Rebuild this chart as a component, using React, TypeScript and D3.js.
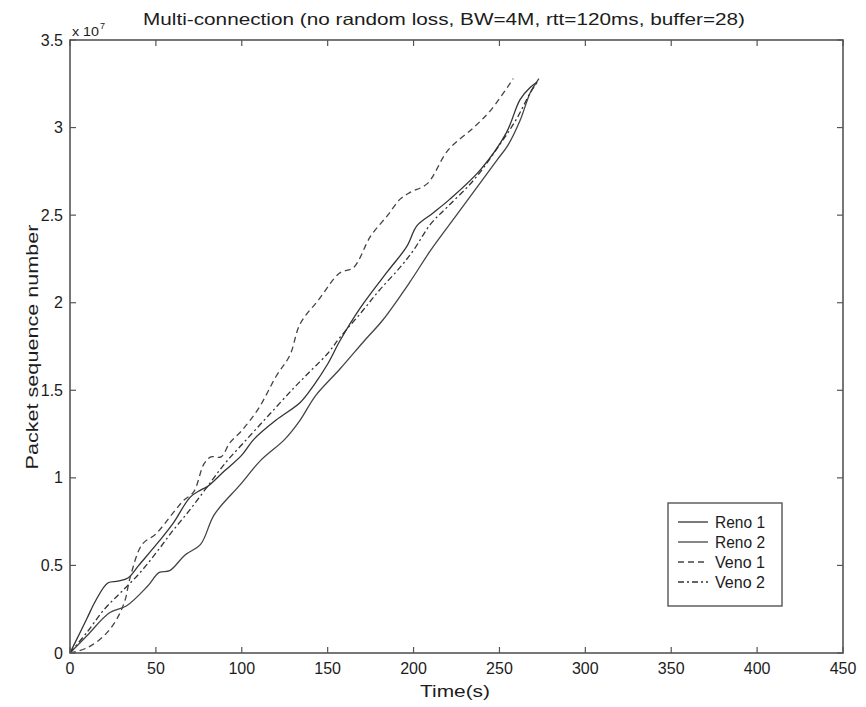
import React from 'react';
import * as d3 from 'd3';

// ---- data (packet sequence number in units of 1e7) ----
const xTickValues = [0, 50, 100, 150, 200, 250, 300, 350, 400, 450];
const yTickValues = [0, 0.5, 1, 1.5, 2, 2.5, 3, 3.5];
const yTickLabels = ['0', '0.5', '1', '1.5', '2', '2.5', '3', '3.5'];

const reno1Time = [0, 5, 10, 15, 22, 28, 34, 40, 52, 60, 70, 76, 80, 90, 100, 107, 120, 134, 142, 150, 157, 169, 185, 196, 202, 211, 221, 239, 254, 262, 268, 272];
const reno1Seq = [0, 0.1, 0.2, 0.3, 0.4, 0.41, 0.43, 0.5, 0.64, 0.74, 0.89, 0.93, 0.95, 1.04, 1.13, 1.22, 1.33, 1.43, 1.53, 1.65, 1.78, 1.97, 2.18, 2.32, 2.44, 2.51, 2.59, 2.76, 2.97, 3.16, 3.23, 3.26];

const reno2Time = [0, 10, 23, 33, 45, 52, 58, 67, 76, 84, 99, 111, 125, 134, 143, 157, 172, 182, 198, 210, 225, 240, 249, 255, 262, 268, 273];
const reno2Seq = [0, 0.1, 0.23, 0.27, 0.38, 0.46, 0.47, 0.56, 0.62, 0.79, 0.96, 1.1, 1.22, 1.33, 1.47, 1.62, 1.79, 1.9, 2.12, 2.3, 2.5, 2.7, 2.82, 2.9, 3.04, 3.2, 3.28];

const veno1Time = [0, 10, 20, 27, 32, 35, 42, 50, 60, 66, 72, 78, 82, 88, 93, 100, 110, 120, 128, 134, 145, 157, 165, 175, 185, 192, 198, 208, 220, 235, 245, 256, 258];
const veno1Seq = [0, 0.03, 0.1, 0.19, 0.3, 0.43, 0.62, 0.68, 0.8, 0.87, 0.92, 1.08, 1.12, 1.12, 1.2, 1.27, 1.4, 1.58, 1.7, 1.88, 2.02, 2.17, 2.2, 2.38, 2.5, 2.59, 2.63, 2.68, 2.87, 3.0, 3.1, 3.25, 3.28];

const veno2Time = [0, 10, 20, 30, 40, 50, 60, 70, 80, 90, 101, 115, 130, 140, 150, 157, 170, 180, 192, 200, 210, 220, 235, 250, 260, 268, 272];
const veno2Seq = [0, 0.12, 0.25, 0.35, 0.45, 0.57, 0.7, 0.82, 0.95, 1.08, 1.2, 1.35, 1.51, 1.61, 1.71, 1.8, 1.95, 2.07, 2.2, 2.3, 2.45, 2.55, 2.7, 2.9, 3.05, 3.2, 3.26];

const seriesNames = ['Reno 1', 'Reno 2', 'Veno 1', 'Veno 2'];

const W = 866;
const H = 707;
const L = 70, R = 843, T = 40, B = 653;
const FONT = '"Liberation Sans", Arial, sans-serif';
const TXT = '#1c1c1c';

export default function App() {
  const x = d3.scaleLinear().domain([0, 450]).range([L, R]);
  const y = d3.scaleLinear().domain([0, 3.5]).range([B, T]);

  const series = [
    { name: seriesNames[0], t: reno1Time, v: reno1Seq, dash: undefined, color: '#333' },
    { name: seriesNames[1], t: reno2Time, v: reno2Seq, dash: undefined, color: '#444' },
    { name: seriesNames[2], t: veno1Time, v: veno1Seq, dash: '6,4', color: '#444' },
    { name: seriesNames[3], t: veno2Time, v: veno2Seq, dash: '6,3,2,3', color: '#333' },
  ];

  const line = d3
    .line<[number, number]>()
    .x((d) => x(d[0]))
    .y((d) => y(d[1]))
    .curve(d3.curveCatmullRom.alpha(0.5));

  const axisColor = '#555';
  const tickLen = 6;

  return (
    <svg width={W} height={H} style={{ position: 'absolute', left: 0, top: 0, background: '#fff' }} fontFamily={FONT}>
      <rect x={0} y={0} width={W} height={H} fill="#fff" />
      {/* title */}
      <text x={444} y={25} textAnchor="middle" fontSize={16.5} fill={TXT} textLength={602} lengthAdjust="spacingAndGlyphs">
        Multi-connection (no random loss, BW=4M, rtt=120ms, buffer=28)
      </text>
      {/* exponent */}
      <text x={72} y={36} fontSize={13} fill={TXT} textLength={27} lengthAdjust="spacingAndGlyphs">
        x 10
      </text>
      <text x={100} y={29} fontSize={9} fill={TXT}>
        7
      </text>

      <defs>
        <clipPath id="plotclip">
          <rect x={L} y={T} width={R - L} height={B - T} />
        </clipPath>
      </defs>

      {/* data lines */}
      <g clipPath="url(#plotclip)">
        {series.map((s) => (
          <path
            key={s.name}
            d={line(s.t.map((t, i) => [t, s.v[i]] as [number, number])) || ''}
            fill="none"
            stroke={s.color}
            strokeWidth={1.3}
            strokeDasharray={s.dash}
          />
        ))}
      </g>

      {/* box */}
      <rect x={L} y={T} width={R - L} height={B - T} fill="none" stroke={axisColor} strokeWidth={1.6} />

      {/* x ticks */}
      {xTickValues.map((v) => (
        <g key={'x' + v}>
          <line x1={x(v)} x2={x(v)} y1={B} y2={B - tickLen} stroke={axisColor} strokeWidth={1.2} />
          <line x1={x(v)} x2={x(v)} y1={T} y2={T + tickLen} stroke={axisColor} strokeWidth={1.2} />
          <text x={x(v)} y={B + 21} textAnchor="middle" fontSize={16} fill={TXT}>
            {v}
          </text>
        </g>
      ))}
      {/* y ticks */}
      {yTickValues.map((v, i) => (
        <g key={'y' + v}>
          <line x1={L} x2={L + tickLen} y1={y(v)} y2={y(v)} stroke={axisColor} strokeWidth={1.2} />
          <line x1={R} x2={R - tickLen} y1={y(v)} y2={y(v)} stroke={axisColor} strokeWidth={1.2} />
          <text x={L - 7} y={y(v) + 5.5} textAnchor="end" fontSize={16} fill={TXT}>
            {yTickLabels[i]}
          </text>
        </g>
      ))}

      {/* axis labels */}
      <text x={455} y={697} textAnchor="middle" fontSize={17} fill={TXT} textLength={70} lengthAdjust="spacingAndGlyphs">
        Time(s)
      </text>
      <text
        transform={`translate(38, 347) rotate(-90)`}
        textAnchor="middle"
        fontSize={17}
        fill={TXT}
        textLength={245}
        lengthAdjust="spacingAndGlyphs"
      >
        Packet sequence number
      </text>

      {/* legend */}
      <rect x={668} y={503} width={114} height={103} fill="#fff" stroke={axisColor} strokeWidth={1.4} />
      {series.map((s, i) => {
        const yy = 522 + i * 20;
        return (
          <g key={'lg' + s.name}>
            <line x1={678} x2={708} y1={yy} y2={yy} stroke={s.color} strokeWidth={1.3} strokeDasharray={s.dash} />
            <text x={715} y={yy + 6} fontSize={16} fill={TXT} textLength={50} lengthAdjust="spacingAndGlyphs">
              {s.name}
            </text>
          </g>
        );
      })}
    </svg>
  );
}
